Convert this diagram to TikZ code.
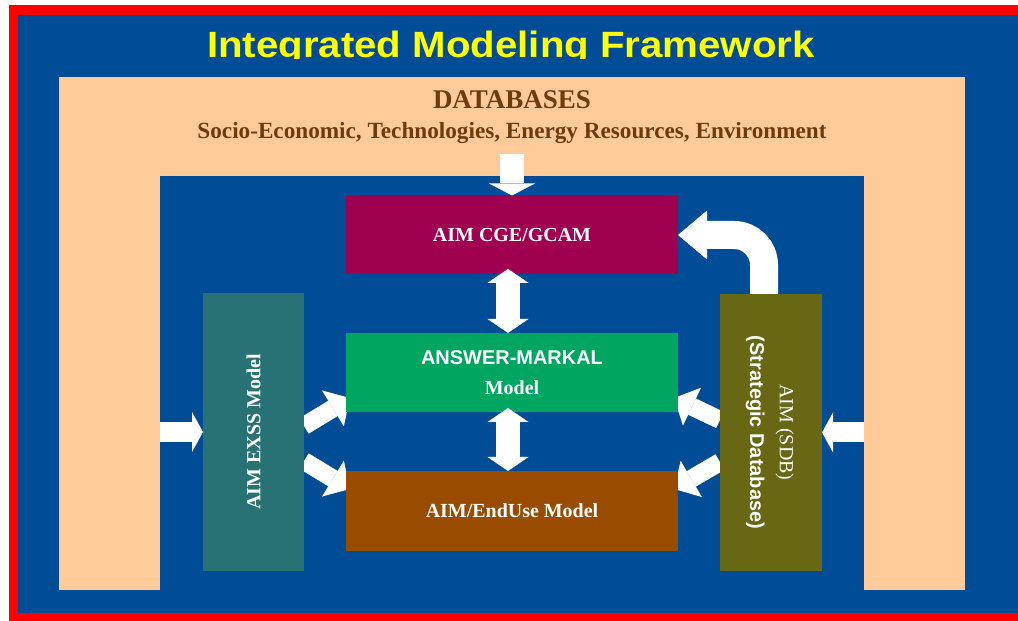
\documentclass[tikz,border=0pt]{standalone}
\usepackage{fontspec}
\setmainfont{Liberation Serif}
\setsansfont{Liberation Sans}
\usetikzlibrary{arrows.meta}

\definecolor{aimred}{RGB}{255,0,0}
\definecolor{aimblue}{RGB}{0,76,150}
\definecolor{aimpeach}{RGB}{255,204,153}
\definecolor{aimyellow}{RGB}{255,255,0}
\definecolor{dbbrown}{RGB}{112,58,14}
\definecolor{cgepurple}{RGB}{160,0,80}
\definecolor{markalgreen}{RGB}{0,166,96}
\definecolor{endusebrown}{RGB}{153,76,0}
\definecolor{exssteal}{RGB}{40,113,116}
\definecolor{sdbolive}{RGB}{103,103,20}

\pgfdeclarelayer{behind}
\pgfsetlayers{behind,main}

\begin{document}
\begin{tikzpicture}[
    box/.style={inner sep=0pt, outer sep=0pt, text=white,
        font=\fontsize{14.2}{21.3}\selectfont\bfseries},
    pad/.style={fill=aimpeach, inner sep=0pt, outer sep=0pt},
    fat/.style n args={3}{draw=white, line width=#1,
        -{Triangle[width=#2, length=#3, line width=0pt]}},
    fatboth/.style n args={3}{draw=white, line width=#1,
        {Triangle[width=#2, length=#3, line width=0pt]}-{Triangle[width=#2, length=#3, line width=0pt]}}
]
\useasboundingbox (0,0) rectangle (25.45,15.525);

% frame
\begin{pgfonlayer}{behind}
    \fill[white] (0,0) rectangle (25.45,15.525);
    \fill[aimred] (0.225,0) rectangle (25.45,15.4);
    \fill[aimblue] (0.45,0.2) rectangle (25.45,15.15);
\end{pgfonlayer}

\begin{scope}
    \clip (0,14.07) rectangle (25.45,15.15);
    \node[anchor=base, text=aimyellow, xscale=1.1, transform shape,
        font=\fontsize{26}{30}\selectfont\sffamily\bfseries] (Title) at (12.775,14.075)
        {Integrated Modeling Framework};
\end{scope}

% databases frame
\node[pad, minimum width=22.65cm, minimum height=2.475cm] (Top) at (12.8,12.3625) {};
\node[pad, minimum width=2.525cm, minimum height=12.825cm] (LegL) at (2.7375,7.1875) {};
\node[pad, minimum width=2.525cm, minimum height=12.825cm] (LegR) at (22.8625,7.1875) {};
\node[anchor=north, inner sep=0pt, align=center, text=dbbrown,
    font=\fontsize{16.5}{21.5}\selectfont\bfseries] (DB) at (12.8,13.26)
    {{\fontsize{19.2}{22.5}\selectfont DATABASES}\\
     Socio-Economic, Technologies, Energy Resources, Environment};

% models
\node[box, fill=cgepurple, minimum width=8.3cm, minimum height=1.975cm] (CGE) at (12.8,9.65) {AIM CGE/GCAM};
\node[box, fill=markalgreen, minimum width=8.3cm, minimum height=1.975cm, align=center] (MARKAL) at (12.8,6.2125)
    {{\sffamily ANSWER-MARKAL}\\Model};
\node[box, fill=endusebrown, minimum width=8.3cm, minimum height=2cm] (EndUse) at (12.8,2.75) {AIM/EndUse Model};
\node[box, fill=exssteal, minimum width=2.525cm, minimum height=6.95cm] (EXSS) at (6.3375,4.725)
    {\rotatebox{90}{AIM EXSS Model}};
\node[box, fill=sdbolive, minimum width=2.55cm, minimum height=6.925cm,
    font=\fontsize{14.2}{21.3}\selectfont] (SDB) at (19.275,4.7125)
    {\rotatebox{-90}{\begin{tabular}{@{}c@{}}AIM (SDB)\\ \sffamily\bfseries (Strategic Database)\end{tabular}}};

% links
\draw[fat={0.6cm}{1.15cm}{0.3cm}] ([yshift=-0.23cm]DB.south) -- (CGE.north);
\draw[fatboth={0.6cm}{1.025cm}{0.35cm}] ([shift={(-0.1,0.14)}]CGE.south) -- ([xshift=-0.1cm]MARKAL.north);
\draw[fatboth={0.6cm}{1.025cm}{0.35cm}] ([shift={(-0.1,0.1)}]MARKAL.south) -- ([xshift=-0.1cm]EndUse.north);
\draw[fat={0.5cm}{1cm}{0.275cm}] (LegL.east |- EXSS.west) -- (EXSS.west);
\draw[fat={0.5cm}{1cm}{0.275cm}] (LegR.west |- SDB.east) -- (SDB.east);
\draw[fat={0.7cm}{1.225cm}{0.725cm}, rounded corners=0.75cm] ([xshift=-0.175cm]SDB.north) |- (CGE.east);

\begin{pgfonlayer}{behind}
    \draw[fat={0.45cm}{1.05cm}{0.5cm}] ([yshift=0.15cm]EXSS.east) -- ([shift={(0.1,0.35)}]MARKAL.south west);
    \draw[fat={0.45cm}{1.05cm}{0.5cm}] ([yshift=-0.725cm]EXSS.east) -- ([shift={(0.1,-0.45)}]EndUse.north west);
    \draw[fat={0.45cm}{1.05cm}{0.5cm}] ([yshift=0.3125cm]SDB.west) -- ([shift={(-0.1,0.35)}]MARKAL.south east);
    \draw[fat={0.45cm}{1.05cm}{0.5cm}] ([yshift=-0.74cm]SDB.west) -- ([shift={(-0.1,-0.45)}]EndUse.north east);
\end{pgfonlayer}
\end{tikzpicture}
\end{document}
